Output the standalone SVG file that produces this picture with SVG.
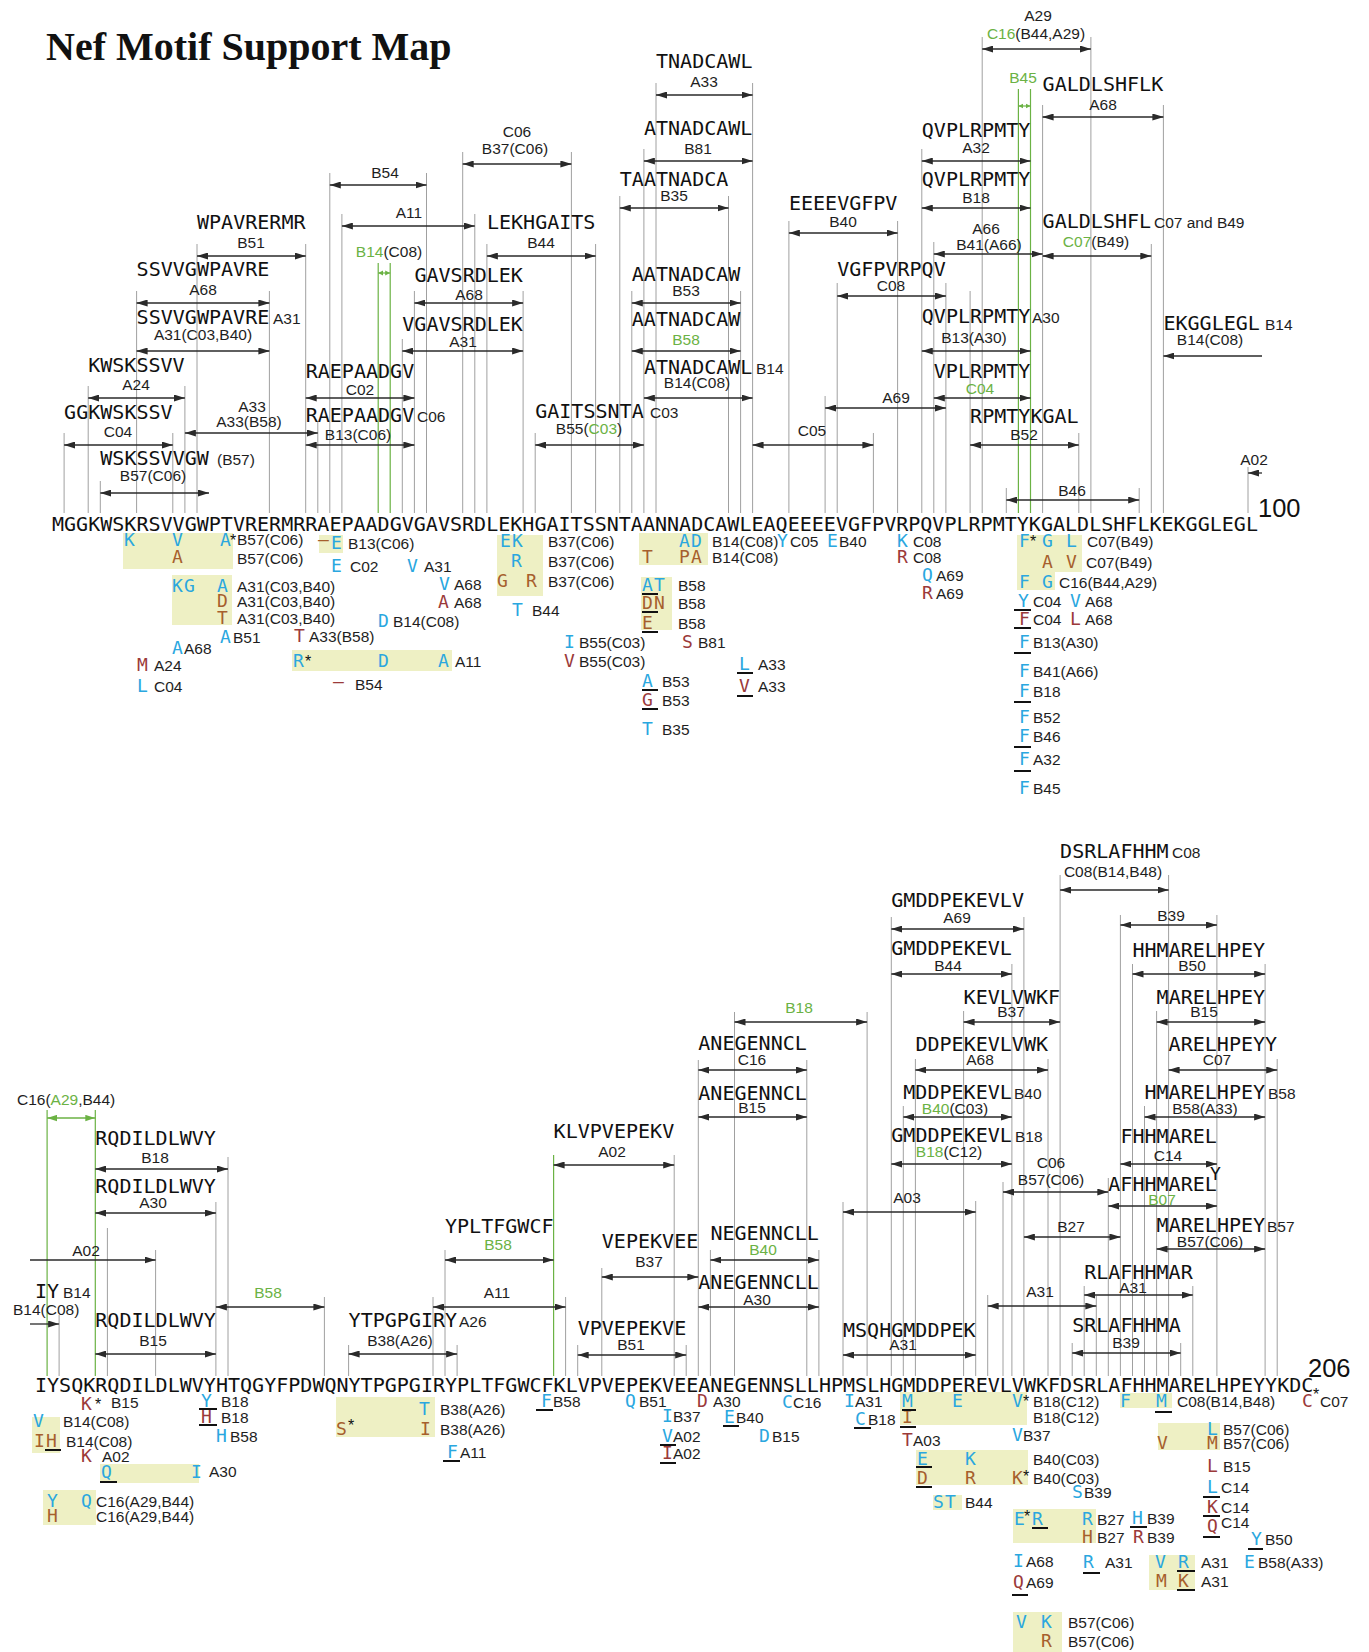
<svg xmlns="http://www.w3.org/2000/svg" width="1369" height="1652" viewBox="0 0 1369 1652">
<defs>
<style>
.s{font-family:"DejaVu Sans Mono",monospace;font-size:20.05px;fill:#111}
.l{font-family:"Liberation Sans",Arial,sans-serif;font-size:15.5px;fill:#1e1e1e}
.c{text-anchor:middle}
.v{font-family:"DejaVu Sans Mono",monospace;font-size:18px;letter-spacing:1.23px}
.k{font-family:"Liberation Sans",Arial,sans-serif;font-size:16px;fill:#111}
.g{fill:#6bb244}
.b{fill:#2aa7df}
.r{fill:#9b3a3a}
.o{fill:#a65f2d}
.vl{fill:none;stroke:#a0a0a0;stroke-width:1}
.gl{fill:none;stroke:#6bb244;stroke-width:1.2}
.a2,.a1s,.a1e{stroke:#2a2a2a;stroke-width:1.3;fill:none}
.a2{marker-start:url(#ah);marker-end:url(#ah)}
.a1s{marker-start:url(#ah)}
.a1e{marker-end:url(#ah)}
.ga{stroke:#6bb244;stroke-width:1.3;marker-start:url(#gh);marker-end:url(#gh)}
.gs{stroke:#6bb244;stroke-width:1.2;marker-start:url(#gsm);marker-end:url(#gsm)}
.u{stroke:#111;stroke-width:1.8}
.h{fill:#eef0c4}
</style>
<marker id="ah" viewBox="0 0 11 7" refX="11" refY="3.5" markerWidth="11" markerHeight="7" markerUnits="userSpaceOnUse" orient="auto-start-reverse"><path d="M0,0L11,3.5L0,7z" fill="#2a2a2a"/></marker>
<marker id="gh" viewBox="0 0 11 7" refX="11" refY="3.5" markerWidth="10" markerHeight="7" markerUnits="userSpaceOnUse" orient="auto-start-reverse"><path d="M0,0L11,3.5L0,7z" fill="#6bb244"/></marker>
<marker id="gsm" viewBox="0 0 6 6" refX="6" refY="3" markerWidth="5" markerHeight="6" markerUnits="userSpaceOnUse" orient="auto-start-reverse"><path d="M0,0L6,3L0,6z" fill="#6bb244"/></marker>
</defs>
<rect width="1369" height="1652" fill="#fff"/>
<g id="title"><text x="46" y="60" style="font-family:'Liberation Serif','Times New Roman',serif;font-weight:bold;font-size:40px;fill:#111">Nef Motif Support Map</text></g>

<g id="connectors">
<path class="vl" d="M64.1 433V513M88.2 386V513M100.3 481V513M136.6 291V513M172.8 433V513M184.9 386V513M197 244V513M269.4 291V513M305.7 244V513M317.8 421V513M329.8 173V513M341.9 214V513M402.3 339V513M414.4 291V513M426.5 173V513M462.7 152V513M474.8 214V513M486.9 244V513M523.1 291V513M535.2 433V513M571.4 152V513M595.6 244V513M619.8 196V513M631.8 291V513M643.9 149V513M656 83V513M728.5 196V513M740.6 291V513M752.6 83V513M788.9 221V513M825.1 396V513M837.2 283V513M873.4 433V513M897.6 221V513M921.8 149V513M933.8 242V513M945.9 283V513M970.1 291V513M982.2 37V513M1006.3 488V513M1042.6 105V513M1078.8 433V513M1090.9 37V513M1139.2 488V513M1151.3 244V513M1163.4 105V513M1248 467V513"/>
<path class="gl" d="M378.2 263V513M390.2 263V513M1018.4 89V513M1030.5 89V513"/>
<path class="vl" d="M59.1 1315V1376M107.4 1228V1376M155.6 1250V1376M215.9 1202V1376M228 1157V1376M324.4 1297V1376M348.6 1345V1376M433 1297V1376M445 1250V1376M457.1 1345V1376M565.6 1297V1376M577.7 1345V1376M601.8 1268V1376M674.2 1155V1376M686.2 1345V1376M698.3 1060V1376M710.4 1250V1376M734.5 1012V1376M806.8 1060V1376M818.9 1250V1376M843 1202V1376M867.1 1012V1376M891.3 917V1376M903.3 1106V1376M915.4 1059V1376M963.6 1011V1376M975.7 1201V1376M987.7 1295V1376M1003 1182V1376M1011.9 964V1376M1023.9 917V1376M1048 1059V1376M1060.1 875V1376M1072.2 1343V1376M1084.2 1286V1376M1096.3 1296V1376M1108.3 1178V1376M1120.4 915V1376M1132.5 964V1376M1144.5 1106V1376M1156.6 1011V1376M1168.6 875V1376M1180.7 1343V1376M1192.8 1286V1376M1216.9 915V1376M1265.1 964V1376M1277.2 1059V1376"/>
<path class="gl" d="M47.1 1110V1376M95.3 1110V1376M553.6 1155V1376"/>
</g>

<g id="seq-top"><text class="s" x="52" y="531">MGGKWSKRSVVGWPTVRERMRRAEPAADGVGAVSRDLEKHGAITSSNTAANNADCAWLEAQEEEEVGFPVRPQVPLRPMTYKGALDLSHFLKEKGGLEGL</text>
<text x="1258" y="517" style="font-family:'Liberation Sans',Arial,sans-serif;font-size:25.5px;fill:#111">100</text></g>
<g id="seq-bottom"><text class="s" x="35" y="1392">IYSQKRQDILDLWVYHTQGYFPDWQNYTPGPGIRYPLTFGWCFKLVPVEPEKVEEANEGENNSLLHPMSLHGMDDPEREVLVWKFDSRLAFHHMARELHPEYYKDC</text>
<text x="1308" y="1377" style="font-family:'Liberation Sans',Arial,sans-serif;font-size:25.5px;fill:#111">206</text></g>

<g id="t-c16"><text class="l c" x="1038" y="21">A29</text><text class="l c" x="1036" y="39"><tspan class="g">C16</tspan>(B44,A29)</text><line class="a2" x1="982.2" y1="49" x2="1090.9" y2="49"/></g>
<g id="t-a33a"><text class="s" x="656" y="68">TNADCAWL</text><text class="l c" x="704" y="87">A33</text><line class="a2" x1="656" y1="95" x2="752.6" y2="95"/></g>
<g id="t-b45"><text class="l c g" x="1023" y="83">B45</text><line class="gs" x1="1018.4" y1="106" x2="1030.5" y2="106"/></g>
<g id="t-a68c"><text class="s" x="1042.6" y="91">GALDLSHFLK</text><text class="l c" x="1103" y="110">A68</text><line class="a2" x1="1042.6" y1="117" x2="1163.4" y2="117"/></g>
<g id="t-b81"><text class="s" x="643.9" y="135">ATNADCAWL</text><text class="l c" x="698" y="154">B81</text><line class="a2" x1="643.9" y1="161" x2="752.6" y2="161"/></g>
<g id="t-b37"><text class="l c" x="517" y="137">C06</text><text class="l c" x="515" y="154">B37(C06)</text><line class="a2" x1="462.7" y1="164" x2="571.4" y2="164"/></g>
<g id="t-a32"><text class="s" x="921.8" y="137">QVPLRPMTY</text><text class="l c" x="976" y="153">A32</text><line class="a2" x1="921.8" y1="161" x2="1030.5" y2="161"/></g>
<g id="t-b54"><text class="l c" x="385" y="178">B54</text><line class="a2" x1="329.8" y1="185" x2="426.5" y2="185"/></g>
<g id="t-b35"><text class="s" x="619.8" y="186">TAATNADCA</text><text class="l c" x="674" y="201">B35</text><line class="a2" x1="619.8" y1="208" x2="728.5" y2="208"/></g>
<g id="t-b18"><text class="s" x="921.8" y="186">QVPLRPMTY</text><text class="l c" x="976" y="203">B18</text><line class="a2" x1="921.8" y1="208" x2="1030.5" y2="208"/></g>
<g id="t-b40"><text class="s" x="788.9" y="210">EEEEVGFPV</text><text class="l c" x="843" y="227">B40</text><line class="a2" x1="788.9" y1="233" x2="897.6" y2="233"/></g>
<g id="t-a11"><text class="l c" x="409" y="218">A11</text><line class="a2" x1="341.9" y1="226" x2="474.8" y2="226"/></g>
<g id="t-b51"><text class="s" x="197" y="229">WPAVRERMR</text><text class="l c" x="251" y="248">B51</text><line class="a2" x1="197" y1="256" x2="305.7" y2="256"/></g>
<g id="t-b44"><text class="s" x="486.9" y="229">LEKHGAITS</text><text class="l c" x="541" y="248">B44</text><line class="a2" x1="486.9" y1="256" x2="595.6" y2="256"/></g>
<g id="t-b41"><text class="l c" x="986" y="234">A66</text><text class="l c" x="989" y="250">B41(A66)</text><line class="a2" x1="933.8" y1="254" x2="1042.6" y2="254"/></g>
<g id="t-c07"><text class="s" x="1042.6" y="228">GALDLSHFL</text><text class="l" x="1154" y="228">C07 and B49</text><text class="l c" x="1096" y="247"><tspan class="g">C07</tspan>(B49)</text><line class="a2" x1="1042.6" y1="256" x2="1151.3" y2="256"/></g>
<g id="t-b14g"><text class="l c" x="389" y="257"><tspan class="g">B14</tspan>(C08)</text><line class="gs" x1="378.2" y1="273" x2="390.2" y2="273"/></g>
<g id="t-a68a"><text class="s" x="136.6" y="276">SSVVGWPAVRE</text><text class="l c" x="203" y="295">A68</text><line class="a2" x1="136.6" y1="303" x2="269.4" y2="303"/></g>
<g id="t-a68b"><text class="s" x="414.4" y="282">GAVSRDLEK</text><text class="l c" x="469" y="300">A68</text><line class="a2" x1="414.4" y1="303" x2="523.1" y2="303"/></g>
<g id="t-b53"><text class="s" x="631.8" y="281">AATNADCAW</text><text class="l c" x="686" y="296">B53</text><line class="a2" x1="631.8" y1="303" x2="740.6" y2="303"/></g>
<g id="t-c08"><text class="s" x="837.2" y="276">VGFPVRPQV</text><text class="l c" x="891" y="291">C08</text><line class="a2" x1="837.2" y1="296" x2="945.9" y2="296"/></g>
<g id="t-a31a"><text class="s" x="136.6" y="324">SSVVGWPAVRE</text><text class="l" x="273" y="324">A31</text><text class="l c" x="203" y="340">A31(C03,B40)</text><line class="a2" x1="136.6" y1="351" x2="269.4" y2="351"/></g>
<g id="t-a31b"><text class="s" x="402.3" y="331">VGAVSRDLEK</text><text class="l c" x="463" y="347">A31</text><line class="a2" x1="402.3" y1="351" x2="523.1" y2="351"/></g>
<g id="t-b58"><text class="s" x="631.8" y="326">AATNADCAW</text><text class="l c g" x="686" y="345">B58</text><line class="a2" x1="631.8" y1="351" x2="740.6" y2="351"/></g>
<g id="t-b13a"><text class="s" x="921.8" y="323">QVPLRPMTY</text><text class="l" x="1032" y="323">A30</text><text class="l c" x="974" y="343">B13(A30)</text><line class="a2" x1="921.8" y1="351" x2="1030.5" y2="351"/></g>
<g id="t-b14c"><text class="s" x="1163.4" y="330">EKGGLEGL</text><text class="l" x="1265" y="330">B14</text><text class="l c" x="1210" y="345">B14(C08)</text><line class="a1s" x1="1163.4" y1="356" x2="1262" y2="356"/></g>
<g id="t-a24"><text class="s" x="88.2" y="372">KWSKSSVV</text><text class="l c" x="136" y="390">A24</text><line class="a2" x1="88.2" y1="398" x2="184.9" y2="398"/></g>
<g id="t-c02"><text class="s" x="305.7" y="378">RAEPAADGV</text><text class="l c" x="360" y="395">C02</text><line class="a2" x1="305.7" y1="398" x2="414.4" y2="398"/></g>
<g id="t-b14b"><text class="s" x="643.9" y="374">ATNADCAWL</text><text class="l" x="756" y="374">B14</text><text class="l c" x="697" y="388">B14(C08)</text><line class="a2" x1="643.9" y1="398" x2="752.6" y2="398"/></g>
<g id="t-c04b"><text class="s" x="933.8" y="378">VPLRPMTY</text><text class="l c g" x="980" y="394">C04</text><line class="a2" x1="933.8" y1="398" x2="1030.5" y2="398"/></g>
<g id="t-a69"><text class="l c" x="896" y="403">A69</text><line class="a2" x1="825.1" y1="408" x2="945.9" y2="408"/></g>
<g id="t-c04a"><text class="s" x="64.1" y="419">GGKWSKSSV</text><text class="l c" x="118" y="437">C04</text><line class="a2" x1="64.1" y1="445" x2="172.8" y2="445"/></g>
<g id="t-a33b"><text class="l c" x="252" y="412">A33</text><text class="l c" x="249" y="427">A33(B58)</text><line class="a2" x1="184.9" y1="433" x2="317.8" y2="433"/></g>
<g id="t-b13c"><text class="s" x="305.7" y="422">RAEPAADGV</text><text class="l" x="417" y="422">C06</text><text class="l c" x="358" y="440">B13(C06)</text><line class="a2" x1="305.7" y1="445" x2="414.4" y2="445"/></g>
<g id="t-b55"><text class="s" x="535.2" y="418">GAITSSNTA</text><text class="l" x="650" y="418">C03</text><text class="l c" x="589" y="434">B55(<tspan class="g">C03</tspan>)</text><line class="a2" x1="535.2" y1="445" x2="643.9" y2="445"/></g>
<g id="t-c05"><text class="l c" x="812" y="436">C05</text><line class="a2" x1="752.6" y1="445" x2="873.4" y2="445"/></g>
<g id="t-b52"><text class="s" x="970.1" y="423">RPMTYKGAL</text><text class="l c" x="1024" y="440">B52</text><line class="a2" x1="970.1" y1="445" x2="1078.8" y2="445"/></g>
<g id="t-b57"><text class="s" x="100.3" y="465">WSKSSVVGW</text><text class="l" x="217" y="465">(B57)</text><text class="l c" x="153" y="481">B57(C06)</text><line class="a2" x1="100.3" y1="493" x2="209" y2="493"/></g>
<g id="t-a02"><text class="l c" x="1254" y="465">A02</text><line class="a1s" x1="1248" y1="473" x2="1262" y2="473"/></g>
<g id="t-b46"><text class="l c" x="1072" y="496">B46</text><line class="a2" x1="1006.3" y1="500" x2="1139.2" y2="500"/></g>

<g id="var-top">
<rect class="h" x="123" y="533" width="110" height="36"/>
<rect class="h" x="172" y="575" width="60" height="50"/>
<rect class="h" x="319" y="535" width="24" height="18"/>
<rect class="h" x="292" y="650" width="160" height="21"/>
<rect class="h" x="497" y="535" width="46" height="61"/>
<rect class="h" x="639" y="533" width="69" height="32"/>
<rect class="h" x="641" y="577" width="31" height="53"/>
<rect class="h" x="1017" y="535" width="65" height="37"/>
<rect class="h" x="1017" y="572" width="38" height="18"/>
<text class="v b" x="124" y="546">K</text><text class="v b" x="172" y="546">V</text><text class="v b" x="220" y="546">A</text><text class="k" x="230" y="546">*</text><text class="l" x="237" y="545">B57(C06)</text>
<text class="v o" x="172" y="563">A</text><text class="l" x="237" y="564">B57(C06)</text>
<text class="v b" x="172" y="592">KG</text><text class="v b" x="217" y="592">A</text><text class="l" x="237" y="592">A31(C03,B40)</text>
<text class="v o" x="217" y="607">D</text><text class="l" x="237" y="607">A31(C03,B40)</text>
<text class="v o" x="217" y="624">T</text><text class="l" x="237" y="624">A31(C03,B40)</text>
<text class="v b" x="220" y="643">A</text><text class="l" x="233" y="643">B51</text>
<text class="v b" x="172" y="654">A</text><text class="l" x="184" y="654">A68</text>
<text class="v r" x="137" y="671">M</text><text class="l" x="154" y="671">A24</text>
<text class="v b" x="137" y="692">L</text><text class="l" x="154" y="692">C04</text>
<text class="v o" x="318" y="546">–</text><text class="v b" x="331" y="549">E</text><text class="l" x="348" y="549">B13(C06)</text>
<text class="v b" x="331" y="572">E</text><text class="l" x="350" y="572">C02</text>
<text class="v b" x="407" y="572">V</text><text class="l" x="424" y="572">A31</text>
<text class="v b" x="439" y="590">V</text><text class="l" x="454" y="590">A68</text>
<text class="v r" x="438" y="608">A</text><text class="l" x="454" y="608">A68</text>
<text class="v b" x="378" y="627">D</text><text class="l" x="393" y="627">B14(C08)</text>
<text class="v r" x="294" y="642">T</text><text class="l" x="309" y="642">A33(B58)</text>
<text class="v b" x="293" y="667">R</text><text class="k" x="305" y="667">*</text><text class="v b" x="378" y="667">D</text><text class="v b" x="438" y="667">A</text><text class="l" x="455" y="667">A11</text>
<text class="v r" x="333" y="688">–</text><text class="l" x="355" y="690">B54</text>
<text class="v b" x="500" y="547">EK</text><text class="l" x="548" y="547">B37(C06)</text>
<text class="v b" x="511" y="567">R</text><text class="l" x="548" y="567">B37(C06)</text>
<text class="v o" x="497" y="587">G</text><text class="v o" x="526" y="587">R</text><text class="l" x="548" y="587">B37(C06)</text>
<text class="v b" x="512" y="616">T</text><text class="l" x="532" y="616">B44</text>
<text class="v b" x="679" y="547">AD</text><text class="l" x="712" y="547">B14(C08)</text><text class="v b" x="777" y="547">Y</text><text class="l" x="790" y="547">C05</text><text class="v b" x="827" y="547">E</text><text class="l" x="839" y="547">B40</text><text class="v b" x="897" y="547">K</text><text class="l" x="913" y="547">C08</text>
<text class="v o" x="642" y="563">T</text><text class="v o" x="679" y="563">PA</text><text class="l" x="712" y="563">B14(C08)</text><text class="v r" x="897" y="563">R</text><text class="l" x="913" y="563">C08</text>
<text class="v b" x="642" y="591">AT</text><text class="l" x="678" y="591">B58</text>
<text class="v o" x="642" y="609">DN</text><text class="l" x="678" y="609">B58</text>
<text class="v o" x="642" y="629">E</text><text class="l" x="678" y="629">B58</text>
<text class="v b" x="564" y="648">I</text><text class="l" x="579" y="648">B55(C03)</text>
<text class="v r" x="564" y="667">V</text><text class="l" x="579" y="667">B55(C03)</text>
<text class="v r" x="682" y="648">S</text><text class="l" x="698" y="648">B81</text>
<text class="v b" x="739" y="670">L</text><text class="l" x="758" y="670">A33</text>
<text class="v r" x="739" y="692">V</text><text class="l" x="758" y="692">A33</text>
<text class="v b" x="642" y="687">A</text><text class="l" x="662" y="687">B53</text>
<text class="v r" x="642" y="706">G</text><text class="l" x="662" y="706">B53</text>
<text class="v b" x="642" y="735">T</text><text class="l" x="662" y="735">B35</text>
<text class="v b" x="922" y="581">Q</text><text class="l" x="936" y="581">A69</text>
<text class="v r" x="922" y="599">R</text><text class="l" x="936" y="599">A69</text>
<text class="v b" x="1019" y="547">F</text><text class="k" x="1030" y="547">*</text><text class="v b" x="1042" y="547">G</text><text class="v b" x="1066" y="547">L</text><text class="l" x="1087" y="547">C07(B49)</text>
<text class="v o" x="1042" y="568">A</text><text class="v o" x="1066" y="568">V</text><text class="l" x="1086" y="568">C07(B49)</text>
<text class="v b" x="1019" y="588">F</text><text class="v b" x="1042" y="588">G</text><text class="l" x="1059" y="588">C16(B44,A29)</text>
<text class="v b" x="1018" y="607">Y</text><text class="l" x="1033" y="607">C04</text><text class="v b" x="1070" y="607">V</text><text class="l" x="1085" y="607">A68</text>
<text class="v r" x="1019" y="625">F</text><text class="l" x="1033" y="625">C04</text><text class="v r" x="1070" y="625">L</text><text class="l" x="1085" y="625">A68</text>
<text class="v b" x="1019" y="648">F</text><text class="l" x="1033" y="648">B13(A30)</text>
<text class="v b" x="1019" y="677">F</text><text class="l" x="1033" y="677">B41(A66)</text>
<text class="v b" x="1019" y="697">F</text><text class="l" x="1033" y="697">B18</text>
<text class="v b" x="1019" y="723">F</text><text class="l" x="1033" y="723">B52</text>
<text class="v b" x="1019" y="742">F</text><text class="l" x="1033" y="742">B46</text>
<text class="v b" x="1019" y="765">F</text><text class="l" x="1033" y="765">A32</text>
<text class="v b" x="1019" y="794">F</text><text class="l" x="1033" y="794">B45</text>
<path class="u" d="M642 594h16M642 612h16M642 632h16M737 673h16M737 696h16M642 690h16M642 709h16M1014 610h17M1014 628h17M1014 653h17M1014 702h17M1014 747h17M1014 771h17"/>
</g>

<g id="b-c16"><text class="l" x="17" y="1105">C16(<tspan class="g">A29</tspan>,B44)</text><line class="ga" x1="47.1" y1="1118" x2="95.3" y2="1118"/></g>
<g id="b-b18a"><text class="s" x="95.3" y="1145">RQDILDLWVY</text><text class="l c" x="155" y="1163">B18</text><line class="a2" x1="95.3" y1="1169" x2="228" y2="1169"/></g>
<g id="b-a30a"><text class="s" x="95.3" y="1193">RQDILDLWVY</text><text class="l c" x="153" y="1208">A30</text><line class="a2" x1="95.3" y1="1213" x2="215.9" y2="1213"/></g>
<g id="b-a02a"><text class="l c" x="86" y="1256">A02</text><line class="a1e" x1="30" y1="1260" x2="155.6" y2="1260"/></g>
<g id="b-b14"><text class="s" x="35" y="1298">IY</text><text class="l" x="63" y="1298">B14</text><text class="l" x="13" y="1315">B14(C08)</text><line class="a1e" x1="30" y1="1324" x2="59.1" y2="1324"/></g>
<g id="b-b58a"><text class="l c g" x="268" y="1298">B58</text><line class="a2" x1="215.9" y1="1307" x2="324.4" y2="1307"/></g>
<g id="b-b15a"><text class="s" x="95.3" y="1327">RQDILDLWVY</text><text class="l c" x="153" y="1346">B15</text><line class="a2" x1="95.3" y1="1354" x2="215.9" y2="1354"/></g>
<g id="b-b38"><text class="s" x="348.6" y="1327">YTPGPGIRY</text><text class="l" x="459" y="1327">A26</text><text class="l c" x="400" y="1346">B38(A26)</text><line class="a2" x1="348.6" y1="1354" x2="457.1" y2="1354"/></g>
<g id="b-b58b"><text class="s" x="445" y="1233">YPLTFGWCF</text><text class="l c g" x="498" y="1250">B58</text><line class="a2" x1="445" y1="1260" x2="553.6" y2="1260"/></g>
<g id="b-a11"><text class="l c" x="497" y="1298">A11</text><line class="a2" x1="433" y1="1307" x2="565.6" y2="1307"/></g>
<g id="b-a02b"><text class="s" x="553.6" y="1138">KLVPVEPEKV</text><text class="l c" x="612" y="1157">A02</text><line class="a2" x1="553.6" y1="1165" x2="674.2" y2="1165"/></g>
<g id="b-b18b"><text class="l c g" x="799" y="1013">B18</text><line class="a2" x1="734.5" y1="1022" x2="867.1" y2="1022"/></g>
<g id="b-c16b"><text class="s" x="698.3" y="1050">ANEGENNCL</text><text class="l c" x="752" y="1065">C16</text><line class="a2" x1="698.3" y1="1070" x2="806.8" y2="1070"/></g>
<g id="b-b15b"><text class="s" x="698.3" y="1100">ANEGENNCL</text><text class="l c" x="752" y="1113">B15</text><line class="a2" x1="698.3" y1="1117" x2="806.8" y2="1117"/></g>
<g id="b-b37a"><text class="s" x="601.8" y="1248">VEPEKVEE</text><text class="l c" x="649" y="1267">B37</text><line class="a2" x1="601.8" y1="1277" x2="698.3" y2="1277"/></g>
<g id="b-b40a"><text class="s" x="710.4" y="1240">NEGENNCLL</text><text class="l c g" x="763" y="1255">B40</text><line class="a2" x1="710.4" y1="1260" x2="818.9" y2="1260"/></g>
<g id="b-a30b"><text class="s" x="698.3" y="1289">ANEGENNCLL</text><text class="l c" x="757" y="1305">A30</text><line class="a2" x1="698.3" y1="1307" x2="818.9" y2="1307"/></g>
<g id="b-b51"><text class="s" x="577.7" y="1335">VPVEPEKVE</text><text class="l c" x="631" y="1350">B51</text><line class="a2" x1="577.7" y1="1355" x2="686.2" y2="1355"/></g>
<g id="b-a03"><text class="l c" x="907" y="1203">A03</text><line class="a2" x1="843" y1="1212" x2="975.7" y2="1212"/></g>
<g id="b-a31a"><text class="s" x="843" y="1337">MSQHGMDDPEK</text><text class="l c" x="903" y="1350">A31</text><line class="a2" x1="843" y1="1355" x2="975.7" y2="1355"/></g>
<g id="b-c08"><text class="s" x="1060.1" y="858">DSRLAFHHM</text><text class="l" x="1172" y="858">C08</text><text class="l c" x="1113" y="877">C08(B14,B48)</text><line class="a2" x1="1060.1" y1="890" x2="1168.6" y2="890"/></g>
<g id="b-a69"><text class="s" x="891.3" y="907">GMDDPEKEVLV</text><text class="l c" x="957" y="923">A69</text><line class="a2" x1="891.3" y1="929" x2="1023.9" y2="929"/></g>
<g id="b-b39a"><text class="l c" x="1171" y="921">B39</text><line class="a2" x1="1120.4" y1="925" x2="1216.9" y2="925"/></g>
<g id="b-b44"><text class="s" x="891.3" y="955">GMDDPEKEVL</text><text class="l c" x="948" y="971">B44</text><line class="a2" x1="891.3" y1="974" x2="1011.9" y2="974"/></g>
<g id="b-b50"><text class="s" x="1132.5" y="957">HHMARELHPEY</text><text class="l c" x="1192" y="971">B50</text><line class="a2" x1="1132.5" y1="974" x2="1265.1" y2="974"/></g>
<g id="b-b37b"><text class="s" x="963.6" y="1004">KEVLVWKF</text><text class="l c" x="1011" y="1017">B37</text><line class="a2" x1="963.6" y1="1022" x2="1060.1" y2="1022"/></g>
<g id="b-b15c"><text class="s" x="1156.6" y="1004">MARELHPEY</text><text class="l c" x="1204" y="1017">B15</text><line class="a2" x1="1156.6" y1="1022" x2="1265.1" y2="1022"/></g>
<g id="b-a68"><text class="s" x="915.4" y="1051">DDPEKEVLVWK</text><text class="l c" x="980" y="1065">A68</text><line class="a2" x1="915.4" y1="1070" x2="1048" y2="1070"/></g>
<g id="b-c07"><text class="s" x="1168.6" y="1051">ARELHPEYY</text><text class="l c" x="1217" y="1065">C07</text><line class="a2" x1="1168.6" y1="1070" x2="1277.2" y2="1070"/></g>
<g id="b-b40b"><text class="s" x="903.3" y="1099">MDDPEKEVL</text><text class="l" x="1014" y="1099">B40</text><text class="l c" x="955" y="1114"><tspan class="g">B40</tspan>(C03)</text><line class="a2" x1="903.3" y1="1117" x2="1011.9" y2="1117"/></g>
<g id="b-b58c"><text class="s" x="1144.5" y="1099">HMARELHPEY</text><text class="l" x="1268" y="1099">B58</text><text class="l c" x="1205" y="1114">B58(A33)</text><line class="a2" x1="1144.5" y1="1117" x2="1265.1" y2="1117"/></g>
<g id="b-b18c"><text class="s" x="891.3" y="1142">GMDDPEKEVL</text><text class="l" x="1015" y="1142">B18</text><text class="l c" x="949" y="1157"><tspan class="g">B18</tspan>(C12)</text><line class="a2" x1="891.3" y1="1164" x2="1011.9" y2="1164"/></g>
<g id="b-c14"><text class="s" x="1120.4" y="1143">FHHMAREL</text><text class="l c" x="1168" y="1161">C14</text><line class="a2" x1="1120.4" y1="1164" x2="1216.9" y2="1164"/><text class="s" x="1210" y="1180" style="font-size:18px">Y</text></g>
<g id="b-b57a"><text class="l c" x="1051" y="1168">C06</text><text class="l c" x="1051" y="1185">B57(C06)</text><line class="a2" x1="1003" y1="1192" x2="1108.3" y2="1192"/></g>
<g id="b-b07"><text class="s" x="1108.3" y="1191">AFHHMAREL</text><text class="l c g" x="1162" y="1205">B07</text><line class="a2" x1="1108.3" y1="1206" x2="1216.9" y2="1206"/></g>
<g id="b-b27"><text class="l c" x="1071" y="1232">B27</text><line class="a2" x1="1023.9" y1="1237" x2="1120.4" y2="1237"/></g>
<g id="b-b57b"><text class="s" x="1156.6" y="1232">MARELHPEY</text><text class="l" x="1267" y="1232">B57</text><text class="l c" x="1210" y="1247">B57(C06)</text><line class="a2" x1="1156.6" y1="1249" x2="1265.1" y2="1249"/></g>
<g id="b-a31b"><text class="s" x="1084.2" y="1279">RLAFHHMAR</text><text class="l c" x="1133" y="1293">A31</text><line class="a2" x1="1084.2" y1="1295" x2="1192.8" y2="1295"/></g>
<g id="b-a31c"><text class="l c" x="1040" y="1297">A31</text><line class="a2" x1="987.7" y1="1306" x2="1096.3" y2="1306"/></g>
<g id="b-b39b"><text class="s" x="1072.2" y="1332">SRLAFHHMA</text><text class="l c" x="1126" y="1348">B39</text><line class="a2" x1="1072.2" y1="1353" x2="1180.7" y2="1353"/></g>

<g id="var-bottom">
<rect class="h" x="32" y="1417" width="28" height="36"/>
<rect class="h" x="100" y="1464" width="99" height="19"/>
<rect class="h" x="43" y="1490" width="53" height="35"/>
<rect class="h" x="336" y="1397" width="99" height="40"/>
<rect class="h" x="900" y="1392" width="127" height="33"/>
<rect class="h" x="916" y="1450" width="112" height="35"/>
<rect class="h" x="933" y="1495" width="29" height="15"/>
<rect class="h" x="1013" y="1509" width="83" height="34"/>
<rect class="h" x="1149" y="1555" width="46" height="35"/>
<rect class="h" x="1120" y="1393" width="52" height="15"/>
<rect class="h" x="1158" y="1423" width="62" height="27"/>
<rect class="h" x="1013" y="1612" width="49" height="40"/>
<text class="v r" x="81" y="1410">K</text><text class="k" x="95" y="1410">*</text><text class="l" x="111" y="1408">B15</text>
<text class="v b" x="33" y="1427">V</text><text class="l" x="63" y="1427">B14(C08)</text>
<text class="v o" x="34" y="1447">IH</text><text class="l" x="66" y="1447">B14(C08)</text>
<text class="v r" x="81" y="1462">K</text><text class="l" x="102" y="1462">A02</text>
<text class="v b" x="101" y="1478">Q</text><text class="v b" x="191" y="1478">I</text><text class="l" x="209" y="1477">A30</text>
<text class="v b" x="47" y="1507">Y</text><text class="v b" x="81" y="1507">Q</text><text class="l" x="96" y="1507">C16(A29,B44)</text>
<text class="v o" x="47" y="1522">H</text><text class="l" x="96" y="1522">C16(A29,B44)</text>
<text class="v b" x="201" y="1407">Y</text><text class="l" x="221" y="1407">B18</text>
<text class="v r" x="201" y="1423">H</text><text class="l" x="221" y="1423">B18</text>
<text class="v b" x="216" y="1442">H</text><text class="l" x="230" y="1442">B58</text>
<text class="v b" x="419" y="1415">T</text><text class="l" x="440" y="1415">B38(A26)</text>
<text class="v o" x="336" y="1435">S</text><text class="k" x="348" y="1431">*</text><text class="v o" x="420" y="1435">I</text><text class="l" x="440" y="1435">B38(A26)</text>
<text class="v b" x="447" y="1458">F</text><text class="l" x="460" y="1458">A11</text>
<text class="v b" x="541" y="1407">F</text><text class="l" x="553" y="1407">B58</text>
<text class="v b" x="625" y="1407">Q</text><text class="l" x="639" y="1407">B51</text>
<text class="v b" x="662" y="1422">I</text><text class="l" x="673" y="1422">B37</text>
<text class="v b" x="662" y="1442">V</text><text class="l" x="673" y="1442">A02</text>
<text class="v r" x="662" y="1459">I</text><text class="l" x="673" y="1459">A02</text>
<text class="v r" x="697" y="1407">D</text><text class="l" x="713" y="1407">A30</text>
<text class="v b" x="724" y="1423">E</text><text class="l" x="736" y="1423">B40</text>
<text class="v b" x="782" y="1408">C</text><text class="l" x="793" y="1408">C16</text>
<text class="v b" x="759" y="1442">D</text><text class="l" x="772" y="1442">B15</text>
<text class="v b" x="844" y="1407">I</text><text class="l" x="855" y="1407">A31</text>
<text class="v b" x="855" y="1425">C</text><text class="l" x="868" y="1425">B18</text>
<text class="v b" x="902" y="1407">M</text><text class="v b" x="952" y="1407">E</text><text class="v b" x="1012" y="1407">V</text><text class="k" x="1023" y="1407">*</text><text class="l" x="1033" y="1407">B18(C12)</text>
<text class="v o" x="902" y="1423">I</text><text class="l" x="1033" y="1423">B18(C12)</text>
<text class="v r" x="902" y="1446">T</text><text class="l" x="913" y="1446">A03</text>
<text class="v b" x="1012" y="1441">V</text><text class="l" x="1023" y="1441">B37</text>
<text class="v b" x="917" y="1465">E</text><text class="v b" x="965" y="1465">K</text><text class="l" x="1033" y="1465">B40(C03)</text>
<text class="v o" x="917" y="1484">D</text><text class="v o" x="965" y="1484">R</text><text class="v o" x="1012" y="1484">K</text><text class="k" x="1023" y="1482">*</text><text class="l" x="1033" y="1484">B40(C03)</text>
<text class="v b" x="933" y="1508">ST</text><text class="l" x="965" y="1508">B44</text>
<text class="v b" x="1072" y="1498">S</text><text class="l" x="1084" y="1498">B39</text>
<text class="v b" x="1014" y="1525">E</text><text class="k" x="1024" y="1522">*</text><text class="v b" x="1032" y="1525">R</text><text class="v b" x="1082" y="1525">R</text><text class="l" x="1097" y="1525">B27</text>
<text class="v o" x="1082" y="1543">H</text><text class="l" x="1097" y="1543">B27</text>
<text class="v b" x="1132" y="1524">H</text><text class="l" x="1147" y="1524">B39</text>
<text class="v r" x="1133" y="1543">R</text><text class="l" x="1147" y="1543">B39</text>
<text class="v b" x="1013" y="1567">I</text><text class="l" x="1026" y="1567">A68</text>
<text class="v r" x="1013" y="1588">Q</text><text class="l" x="1026" y="1588">A69</text>
<text class="v b" x="1083" y="1568">R</text><text class="l" x="1105" y="1568">A31</text>
<text class="v b" x="1155" y="1568">V</text><text class="v b" x="1178" y="1568">R</text><text class="l" x="1201" y="1568">A31</text>
<text class="v o" x="1156" y="1587">M</text><text class="v o" x="1178" y="1587">K</text><text class="l" x="1201" y="1587">A31</text>
<text class="v b" x="1244" y="1568">E</text><text class="l" x="1258" y="1568">B58(A33)</text>
<text class="v b" x="1120" y="1407">F</text><text class="v b" x="1156" y="1407">M</text><text class="l" x="1177" y="1407">C08(B14,B48)</text>
<text class="v r" x="1302" y="1407">C</text><text class="k" x="1313" y="1400">*</text><text class="l" x="1320" y="1407">C07</text>
<text class="v b" x="1207" y="1435">L</text><text class="l" x="1223" y="1435">B57(C06)</text>
<text class="v o" x="1157" y="1449">V</text><text class="v o" x="1207" y="1449">M</text><text class="l" x="1223" y="1449">B57(C06)</text>
<text class="v r" x="1207" y="1472">L</text><text class="l" x="1223" y="1472">B15</text>
<text class="v b" x="1207" y="1493">L</text><text class="l" x="1221" y="1493">C14</text>
<text class="v r" x="1207" y="1513">K</text><text class="l" x="1221" y="1513">C14</text>
<text class="v r" x="1207" y="1532">Q</text><text class="l" x="1221" y="1528">C14</text>
<text class="v b" x="1251" y="1545">Y</text><text class="l" x="1265" y="1545">B50</text>
<text class="v b" x="1016" y="1628">V</text><text class="v b" x="1041" y="1628">K</text><text class="l" x="1068" y="1628">B57(C06)</text>
<text class="v o" x="1041" y="1647">R</text><text class="l" x="1068" y="1647">B57(C06)</text>
<path class="u" d="M45 1450h16M100 1482h17M199 1409h18M199 1425h18M443 1461h17M536 1410h17M660 1445h16M660 1463h16M723 1426h16M854 1428h17M902 1410h14M900 1427h16M916 1467h16M916 1487h16M1032 1528h16M1130 1527h17M1012 1595h16M1083 1573h17M1177 1571h18M1177 1590h18M1155 1412h17M1203 1497h17M1203 1516h17M1203 1537h17M1248 1549h15"/>
</g>
</svg>
